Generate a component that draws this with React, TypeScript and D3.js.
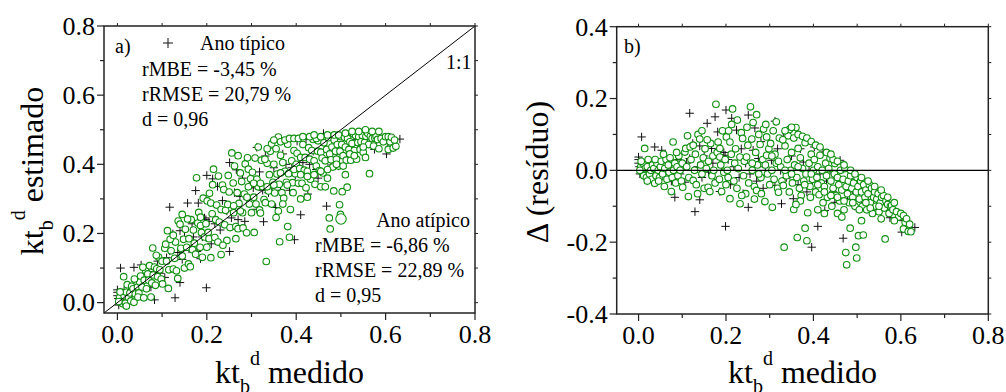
import React from "react";
import * as d3 from "d3";

// [kt_b^d medido, Δ residuo]  (estimado = medido + Δ)
const tipico: [number, number][] = [
  [0.0, 0.037], [0.0, 0.03], [0.0, 0.02], [0.002, 0.01], [0.005, 0.0], [0.003, -0.01], [0.007, 0.093], [0.01, 0.005],
  [0.012, -0.005], [0.015, 0.02], [0.02, 0.0], [0.025, 0.01], [0.03, -0.01], [0.037, 0.065], [0.04, 0.005], [0.045, -0.015],
  [0.053, 0.056], [0.06, 0.0], [0.07, 0.02], [0.075, -0.03], [0.083, 0.014], [0.083, -0.075], [0.09, 0.03], [0.095, -0.01],
  [0.106, -0.033], [0.11, 0.02], [0.117, 0.159], [0.117, 0.033], [0.124, 0.075], [0.129, -0.115], [0.135, 0.01], [0.14, 0.068],
  [0.14, -0.082], [0.145, -0.02], [0.15, 0.04], [0.157, 0.131], [0.16, -0.005], [0.167, 0.061], [0.17, 0.02], [0.175, 0.149],
  [0.178, -0.03], [0.181, 0.107], [0.186, -0.059], [0.19, 0.0], [0.195, 0.05], [0.198, 0.042], [0.198, -0.009], [0.199, -0.156],
  [0.2, 0.168], [0.201, -0.003], [0.205, 0.03], [0.21, -0.04], [0.213, 0.145], [0.218, 0.01], [0.224, 0.112], [0.23, -0.02],
  [0.235, 0.06], [0.239, -0.065], [0.245, 0.02], [0.251, 0.154], [0.251, -0.103], [0.255, -0.01], [0.262, 0.056], [0.266, 0.118],
  [0.27, -0.03], [0.274, 0.033], [0.28, 0.08], [0.285, -0.05], [0.29, 0.01], [0.295, 0.045],
  [0.304, 0.028], [0.312, 0.137], [0.312, -0.042], [0.318, 0.06], [0.325, 0.0], [0.327, -0.093], [0.331, 0.093], [0.338, -0.02],
  [0.346, -0.014], [0.35, 0.04], [0.354, -0.079], [0.36, 0.01], [0.365, -0.04], [0.37, 0.06], [0.377, 0.023], [0.385, -0.06],
  [0.39, 0.0], [0.396, -0.214], [0.398, -0.03],
  [0.402, 0.065], [0.41, -0.156], [0.415, -0.01], [0.422, 0.051], [0.426, -0.112], [0.43, -0.03], [0.438, 0.0], [0.445, -0.06],
  [0.449, -0.089], [0.455, -0.02], [0.461, 0.028], [0.468, -0.189], [0.47, -0.05], [0.478, -0.08], [0.485, -0.03], [0.49, -0.06],
  [0.495, -0.1], [0.505, -0.05], [0.518, -0.09], [0.525, -0.07], [0.533, -0.062], [0.545, -0.095], [0.56, -0.1], [0.575, -0.132],
  [0.58, -0.11], [0.602, -0.172], [0.605, -0.14], [0.632, -0.159],
];

const atipico: [number, number][] = [
  [0.005, 0.01], [0.008, -0.005], [0.01, 0.02], [0.012, -0.015], [0.015, 0.005], [0.014, 0.061], [0.018, -0.02], [0.02, 0.01],
  [0.022, 0.03], [0.025, -0.01], [0.028, 0.0], [0.03, -0.025], [0.032, 0.015], [0.035, 0.005], [0.037, -0.036], [0.04, -0.015],
  [0.042, 0.02], [0.045, 0.0], [0.048, -0.02], [0.05, 0.01], [0.003, 0.0], [0.006, 0.025], [0.02, -0.03], [0.038, 0.03], [0.046, -0.03],
  [0.052, 0.025], [0.055, -0.01], [0.059, -0.045], [0.06, 0.005], [0.063, 0.03], [0.065, -0.025], [0.068, 0.015], [0.07, -0.005],
  [0.072, 0.035], [0.075, -0.059], [0.077, -0.02], [0.079, 0.079], [0.08, 0.0], [0.083, 0.02], [0.085, -0.035], [0.088, 0.01],
  [0.09, -0.015], [0.092, 0.04], [0.095, 0.0], [0.098, -0.03], [0.1, 0.02], [0.057, 0.045], [0.087, 0.05],
  [0.101, -0.047], [0.106, 0.051], [0.108, 0.061], [0.112, 0.096], [0.114, -0.073], [0.11, 0.01], [0.115, -0.02], [0.12, 0.03],
  [0.125, -0.028], [0.128, 0.0], [0.13, 0.045], [0.132, -0.04], [0.136, 0.1], [0.14, 0.087], [0.142, 0.015], [0.145, -0.01],
  [0.148, 0.035], [0.15, -0.05], [0.152, 0.06], [0.155, 0.005], [0.159, -0.047], [0.16, 0.025], [0.163, -0.059], [0.165, 0.075],
  [0.168, -0.015], [0.17, 0.04], [0.172, 0.0], [0.175, -0.035], [0.177, 0.184], [0.18, 0.05], [0.182, 0.079], [0.185, -0.025],
  [0.186, 0.061], [0.186, 0.037], [0.188, 0.015], [0.19, -0.059], [0.192, 0.11], [0.195, -0.005], [0.198, 0.03], [0.2, -0.04],
  [0.118, 0.065], [0.135, -0.065], [0.157, 0.085], [0.145, 0.11], [0.125, 0.07],
  [0.201, 0.093], [0.203, 0.0], [0.205, -0.02], [0.209, 0.079], [0.209, -0.079], [0.212, 0.045], [0.213, 0.128], [0.215, 0.171],
  [0.218, -0.03], [0.22, 0.02], [0.222, 0.06], [0.225, -0.05], [0.228, 0.005], [0.232, 0.037], [0.232, -0.093], [0.235, 0.105],
  [0.238, 0.089], [0.24, -0.015], [0.242, 0.025], [0.245, -0.065], [0.247, 0.037], [0.25, 0.07], [0.252, -0.035], [0.256, 0.177],
  [0.259, 0.087], [0.26, 0.0], [0.262, 0.133], [0.265, -0.045], [0.268, 0.05], [0.27, -0.056], [0.272, 0.015], [0.275, 0.1],
  [0.278, 0.072], [0.28, -0.02], [0.281, -0.065], [0.284, 0.03], [0.286, 0.115], [0.289, -0.087], [0.291, 0.128], [0.293, 0.093],
  [0.293, 0.042], [0.295, -0.01], [0.298, 0.06], [0.3, -0.04], [0.226, 0.14], [0.248, 0.12], [0.27, 0.155], [0.206, 0.11],
  [0.236, -0.07], [0.265, -0.08], [0.26, 0.02], [0.275, -0.01], [0.29, 0.015],
  [0.302, 0.075], [0.305, 0.0], [0.306, -0.103], [0.308, 0.11], [0.31, -0.025], [0.312, 0.045], [0.315, 0.02], [0.318, -0.05],
  [0.32, -0.061], [0.322, 0.09], [0.325, 0.01], [0.328, -0.03], [0.331, -0.042], [0.333, -0.214], [0.335, 0.068], [0.338, -0.015],
  [0.34, 0.03], [0.342, 0.096], [0.345, 0.114], [0.345, -0.06], [0.348, 0.0], [0.35, 0.05], [0.352, -0.035], [0.355, -0.109],
  [0.357, 0.015], [0.36, 0.119], [0.362, -0.02], [0.363, -0.187], [0.365, 0.061], [0.368, -0.05], [0.37, 0.035], [0.372, -0.07],
  [0.375, 0.005], [0.378, -0.03], [0.381, 0.077], [0.381, -0.161], [0.383, -0.01], [0.385, -0.196], [0.387, -0.118], [0.39, 0.02],
  [0.392, -0.045], [0.395, 0.045], [0.398, -0.025], [0.4, 0.0], [0.315, 0.135], [0.33, 0.085], [0.355, 0.09], [0.37, -0.085],
  [0.36, -0.095], [0.393, -0.075], [0.305, 0.04], [0.32, 0.025], [0.335, 0.0], [0.35, -0.01], [0.365, 0.01], [0.38, -0.04],
  [0.395, -0.01], [0.335, 0.11], [0.35, 0.12], [0.365, 0.1], [0.375, 0.095], [0.385, 0.09], [0.395, 0.08],
  [0.402, 0.03], [0.405, -0.06], [0.408, -0.02], [0.41, 0.01], [0.413, -0.068], [0.415, 0.042], [0.418, -0.035], [0.42, 0.0],
  [0.422, -0.09], [0.425, -0.045], [0.428, 0.02], [0.43, -0.015], [0.432, -0.075], [0.435, 0.005], [0.438, 0.034], [0.44, -0.03],
  [0.442, -0.1], [0.445, -0.05], [0.448, -0.01], [0.449, 0.019], [0.452, -0.07], [0.455, -0.02], [0.458, -0.04], [0.46, -0.085],
  [0.462, 0.0], [0.465, -0.055], [0.468, -0.025], [0.47, -0.11], [0.472, 0.005], [0.474, -0.229], [0.476, -0.263], [0.475, -0.045],
  [0.478, -0.065], [0.48, -0.03], [0.482, -0.09], [0.484, -0.161], [0.485, -0.015], [0.488, -0.05], [0.49, -0.075], [0.492, -0.035],
  [0.495, -0.1], [0.497, -0.214], [0.498, -0.06], [0.499, -0.244], [0.5, -0.02], [0.41, -0.11], [0.425, -0.12], [0.455, -0.12],
  [0.445, 0.03], [0.465, -0.13], [0.405, 0.07], [0.415, 0.065], [0.43, 0.05], [0.44, 0.045], [0.455, 0.025], [0.47, 0.015],
  [0.485, 0.0], [0.495, -0.01], [0.41, -0.04], [0.425, -0.06], [0.44, -0.07], [0.455, -0.075], [0.47, -0.085], [0.49, -0.09],
  [0.502, -0.045], [0.503, -0.182], [0.505, -0.08], [0.508, -0.03], [0.51, -0.14], [0.51, -0.06], [0.512, -0.1], [0.514, -0.18],
  [0.515, -0.04], [0.518, -0.075], [0.52, -0.055], [0.522, -0.11], [0.525, -0.065], [0.528, -0.04], [0.53, -0.09], [0.533, -0.05],
  [0.535, -0.12], [0.538, -0.075], [0.54, -0.06], [0.543, -0.1], [0.545, -0.08], [0.548, -0.065], [0.55, -0.115], [0.553, -0.09],
  [0.556, -0.075], [0.56, -0.07], [0.562, -0.105], [0.564, -0.191], [0.566, -0.085], [0.57, -0.095], [0.573, -0.12], [0.576, -0.1],
  [0.579, -0.098], [0.582, -0.11], [0.59, -0.115], [0.595, -0.13], [0.6, -0.12], [0.606, -0.126], [0.606, -0.163], [0.61, -0.145],
  [0.613, -0.135], [0.617, -0.17], [0.623, -0.171], [0.62, -0.15], [0.585, -0.14], [0.555, -0.135], [0.51, -0.02], [0.525, -0.03],
  [0.54, -0.045], [0.555, -0.055], [0.57, -0.075], [0.585, -0.09], [0.505, -0.11], [0.52, -0.09], [0.53, -0.105], [0.55, -0.1],
];

const xTicks = [0, 0.2, 0.4, 0.6, 0.8];
const xMinor = [0.1, 0.3, 0.5, 0.7];
const aYTicks = [0, 0.2, 0.4, 0.6, 0.8];
const aYMinor = [0.1, 0.3, 0.5, 0.7];
const bYTicks = [-0.4, -0.2, 0, 0.2, 0.4];
const bYMinor = [-0.3, -0.1, 0.1, 0.3];

const statsTipico = ["rMBE = -3,45 %", "rRMSE = 20,79 %", "d = 0,96"];
const statsAtipico = ["rMBE = -6,86 %", "rRMSE = 22,89 %", "d = 0,95"];

const FONT = "Liberation Serif";
const GREEN = "#119011";

function Plus({ x, y, s = 4.2 }: { x: number; y: number; s?: number }) {
  return (
    <path d={`M${x - s},${y}H${x + s}M${x},${y - s}V${y + s}`} stroke="#111" strokeWidth={1} fill="none" />
  );
}

function Frame({ x, y, xt, xm, yt, ym, fmtY }: any) {
  const [x0, x1] = x.range();
  const [y0, y1] = y.range(); // y0 bottom, y1 top
  const els: any[] = [];
  const allX = [...xt, ...xm];
  const allY = [...yt, ...ym];
  xt.forEach((v: number) => els.push(<line key={"bx" + v} x1={x(v)} x2={x(v)} y1={y0} y2={y0 + 7} stroke="#222" strokeWidth={1.2} />));
  xm.forEach((v: number) => els.push(<line key={"bxm" + v} x1={x(v)} x2={x(v)} y1={y0} y2={y0 + 4} stroke="#222" strokeWidth={1.2} />));
  yt.forEach((v: number) => els.push(<line key={"ly" + v} x1={x0 - 7} x2={x0} y1={y(v)} y2={y(v)} stroke="#222" strokeWidth={1.2} />));
  ym.forEach((v: number) => els.push(<line key={"lym" + v} x1={x0 - 4} x2={x0} y1={y(v)} y2={y(v)} stroke="#222" strokeWidth={1.2} />));
  allX.forEach((v: number) => els.push(<line key={"tx" + v} x1={x(v)} x2={x(v)} y1={y1} y2={y1 - 3} stroke="#222" strokeWidth={1} />));
  allY.forEach((v: number) => els.push(<line key={"ry" + v} x1={x1} x2={x1 + 3} y1={y(v)} y2={y(v)} stroke="#222" strokeWidth={1} />));
  xt.forEach((v: number) =>
    els.push(
      <text key={"xl" + v} x={x(v)} y={y0 + 30} textAnchor="middle" fontSize={26} fontFamily={FONT}>
        {v.toFixed(1)}
      </text>
    )
  );
  yt.forEach((v: number) =>
    els.push(
      <text key={"yl" + v} x={x0 - 9} y={y(v)} dy="0.34em" textAnchor="end" fontSize={26} fontFamily={FONT}>
        {fmtY(v)}
      </text>
    )
  );
  els.push(<rect key="frame" x={x0} y={y1} width={x1 - x0} height={y0 - y1} fill="none" stroke="#222" strokeWidth={1.5} />);
  return <g>{els}</g>;
}

function XTitle({ cx, y }: { cx: number; y: number }) {
  return (
    <text x={cx} y={y} textAnchor="middle" fontSize={32} fontFamily={FONT}>
      kt
      <tspan fontSize={20} dy={10}>b</tspan>
      <tspan fontSize={20} dy={-28}>d</tspan>
      <tspan dy={18}> medido</tspan>
    </text>
  );
}

export default function App() {
  const xa = d3.scaleLinear().domain([-0.03, 0.8]).range([104, 475]);
  const ya = d3.scaleLinear().domain([-0.03, 0.8]).range([313, 26]);
  const xb = d3.scaleLinear().domain([-0.05, 0.8]).range([616.7, 988.3]);
  const yb = d3.scaleLinear().domain([-0.4, 0.4]).range([314, 26.7]);

  const fmt = (v: number) => (Math.abs(v) < 1e-9 ? "0.0" : v.toFixed(1));

  return (
    <svg width={1006} height={392} style={{ position: "absolute", left: 0, top: 0, background: "#fff" }}>
      {/* Panel a */}
      <g>
        {tipico.map(([m, r], i) => (
          <Plus key={"pa" + i} x={xa(m)} y={ya(m + r)} />
        ))}
        {atipico.map(([m, r], i) => (
          <circle key={"ca" + i} cx={xa(m)} cy={ya(m + r)} r={3.3} fill="#fff" stroke={GREEN} strokeWidth={1.1} />
        ))}
        <line x1={xa(-0.03)} y1={ya(-0.03)} x2={xa(0.8)} y2={ya(0.8)} stroke="#000" strokeWidth={1} />
        <Frame x={xa} y={ya} xt={xTicks} xm={xMinor} yt={aYTicks} ym={aYMinor} fmtY={fmt} />
        <XTitle cx={289.5} y={383} />
        <text transform="translate(43,171) rotate(-90)" textAnchor="middle" fontSize={32} fontFamily={FONT}>
          kt
          <tspan fontSize={20} dy={10}>b</tspan>
          <tspan fontSize={20} dy={-28}>d</tspan>
          <tspan dy={18}> estimado</tspan>
        </text>
        <g fontFamily={FONT} fontSize={20}>
          <text x={115} y={53}>a)</text>
          <Plus x={168} y={43} s={5} />
          <text x={200} y={50}>Ano típico</text>
          {statsTipico.map((s, i) => (
            <text key={"st" + i} x={142} y={76 + i * 25}>{s}</text>
          ))}
          <text x={446} y={69}>1:1</text>
          <circle cx={341} cy={219} r={5.2} fill="#fff" stroke={GREEN} strokeWidth={1.1} />
          <text x={470} y={227} textAnchor="end">Ano atípico</text>
          {statsAtipico.map((s, i) => (
            <text key={"sa" + i} x={315} y={252 + i * 25}>{s}</text>
          ))}
        </g>
      </g>

      {/* Panel b */}
      <g>
        {tipico.map(([m, r], i) => (
          <Plus key={"pb" + i} x={xb(m)} y={yb(r)} />
        ))}
        {atipico.map(([m, r], i) => (
          <circle key={"cb" + i} cx={xb(m)} cy={yb(r)} r={3.3} fill="#fff" stroke={GREEN} strokeWidth={1.1} />
        ))}
        <line x1={xb(-0.05)} x2={xb(0.8)} y1={yb(0)} y2={yb(0)} stroke="#000" strokeWidth={1.2} />
        <Frame x={xb} y={yb} xt={xTicks} xm={xMinor} yt={bYTicks} ym={bYMinor} fmtY={fmt} />
        <XTitle cx={802.5} y={383} />
        <text transform="translate(548,172) rotate(-90)" textAnchor="middle" fontSize={32} fontFamily={FONT}>
          Δ (resíduo)
        </text>
        <text x={624} y={53} fontFamily={FONT} fontSize={20}>b)</text>
      </g>
    </svg>
  );
}
